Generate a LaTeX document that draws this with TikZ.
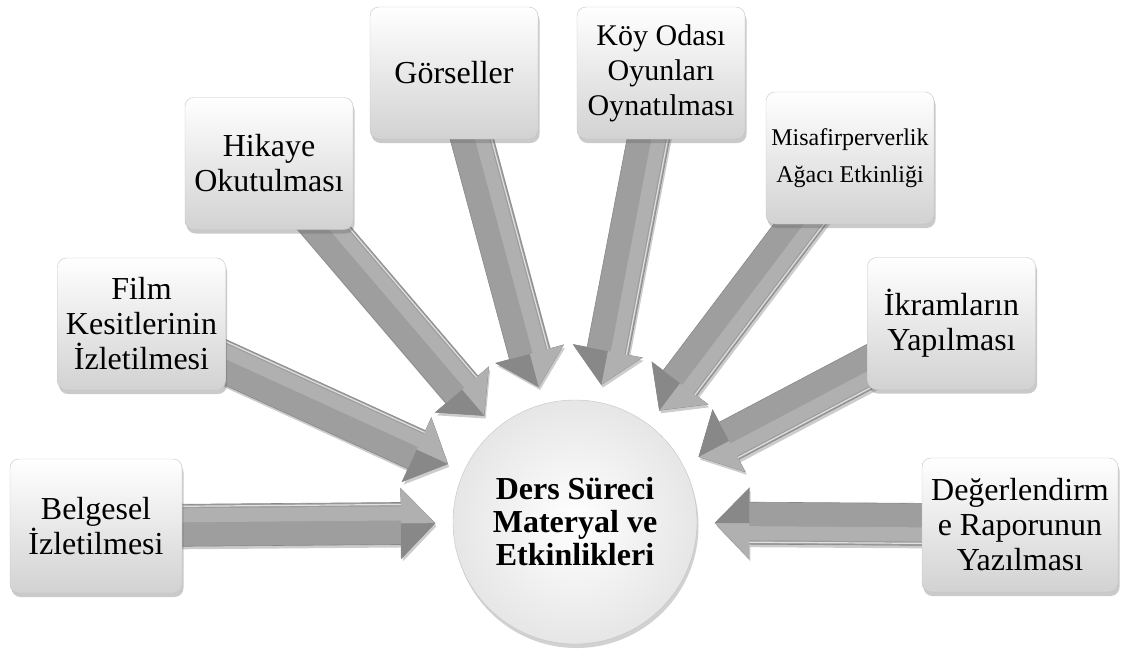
\documentclass[tikz,border=0pt]{standalone}
\usepackage{fontspec}
\setmainfont{Liberation Serif}
\usetikzlibrary{calc,shadows}

\pgfdeclarelayer{background}
\pgfsetlayers{background,main}

\definecolor{boxbottom}{HTML}{D2D2D2}
\definecolor{boxline}{HTML}{C4C4C4}
\definecolor{hubedge}{HTML}{E6E6E6}
\definecolor{hubline}{HTML}{C4C4C4}
\definecolor{arrowmid}{HTML}{9E9E9E}
\definecolor{arrowlight}{HTML}{B0B0B0}
\definecolor{arrowdark}{HTML}{888888}

\tikzset{
  item/.style={draw=boxline, rounded corners=9pt, top color=white, bottom color=boxbottom,
    minimum width=168pt, minimum height=132pt, inner sep=2pt, align=center,
    font=\fontsize{32}{35}\selectfont,
    drop shadow={shadow xshift=1.5pt, shadow yshift=-4pt, opacity=.35, fill=black!60}},
  hub/.style={circle, draw=hubline, inner color=white, outer color=hubedge,
    minimum size=244pt, inner sep=0pt, align=center,
    font=\bfseries\fontsize{32}{33}\selectfont,
    drop shadow={shadow xshift=1.5pt, shadow yshift=-4pt, opacity=.3, fill=black!60}}
}

% outline of a block arrow from (t) to (p), neck at (n)
\newcommand\arrowpath[2]{($(t)!#1!90:(p)$) -- ($(n)!#1!90:(p)$) -- ($(n)!#2!90:(p)$) -- (p)
  -- ($(n)!#2!-90:(p)$) -- ($(n)!#1!-90:(p)$) -- ($(t)!#1!-90:(p)$) -- cycle}

% block arrow from a box to the hub
\newcommand\feedarrow[2]{%
  \coordinate (t) at (#1.center);
  \coordinate (p) at ($(#2.center)!140pt!(#1.center)$);
  \coordinate (n) at ($(p)!34pt!(t)$);
  \fill[black, opacity=.2, transform canvas={shift={(1.5pt,-3pt)}}] \arrowpath{21pt}{35pt};
  \fill[arrowmid, draw=arrowdark, line width=.6pt] \arrowpath{21pt}{35pt};
  \fill[arrowlight] ($(n)!35pt!90:(p)$) -- (p) -- (n) -- cycle;
  \fill[arrowdark] ($(n)!35pt!-90:(p)$) -- (p) -- (n) -- cycle;
  \fill[arrowlight] ($(t)!17pt!90:(p)$) -- ($(n)!17pt!90:(p)$) -- ($(n)!3pt!90:(p)$) -- ($(t)!3pt!90:(p)$) -- cycle;
  \draw[white!75!gray, line width=1.2pt] ($(t)!19pt!90:(p)$) -- ($(n)!19pt!90:(p)$);
}

\begin{document}
\begin{tikzpicture}[x=1pt, y=-1pt]
\useasboundingbox (0,0) rectangle (1123,649);

% Center
\node[hub] (hub) at (575,522) {Ders Süreci\\Materyal ve\\Etkinlikleri};

% Boxes
\node[item, minimum width=172pt, minimum height=134pt] (bel) at (96,526) {Belgesel\\İzletilmesi};
\node[item] (film) at (141.5,324) {Film\\Kesitlerinin\\İzletilmesi};
\node[item] (hik) at (269,163.5) {Hikaye\\Okutulması};
\node[item] (gor) at (454,73) {Görseller};
\node[item, font=\fontsize{30}{35}\selectfont] (koy) at (661,73) {Köy Odası\\Oyunları\\Oynatılması};
\node[item, font=\fontsize{24}{37}\selectfont] (mis) at (850,158) {Misafirperverlik\\Ağacı Etkinliği};
\node[item] (ikr) at (951.5,323.5) {İkramların\\Yapılması};
\node[item, minimum width=196pt, minimum height=134pt] (deg) at (1020,525) {Değerlendirm\\e Raporunun\\Yazılması};

% Arrows
\begin{pgfonlayer}{background}
\foreach \src in {bel,film,hik,gor,koy,mis,ikr,deg}
  \feedarrow{\src}{hub};
\end{pgfonlayer}

\end{tikzpicture}
\end{document}
